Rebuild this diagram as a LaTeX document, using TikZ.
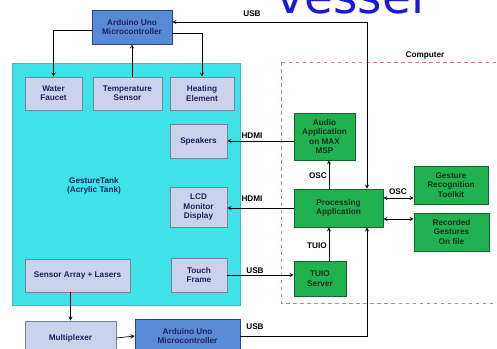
\documentclass[tikz,border=0pt]{standalone}
\usepackage{fontspec}
\setmainfont{Liberation Sans}
\newfontfamily\bigfont{DejaVu Sans}

\definecolor{tankcyan}{RGB}{62,226,232}
\definecolor{tankedge}{RGB}{70,185,195}
\definecolor{boxgrey}{RGB}{203,211,236}
\definecolor{boxedge}{RGB}{120,130,165}
\definecolor{unoblue}{RGB}{88,138,214}
\definecolor{unoedge}{RGB}{40,70,140}
\definecolor{gbox}{RGB}{32,178,78}
\definecolor{gedge}{RGB}{20,100,45}
\definecolor{navy}{RGB}{30,35,90}
\definecolor{gtext}{RGB}{20,45,30}
\definecolor{pcdash}{RGB}{225,120,120}
\definecolor{vesselblue}{RGB}{25,25,225}

\tikzset{
	wh/.style 2 args={minimum width=#1*0.03cm, minimum height=#2*0.03cm},
	box/.style={draw, align=center, inner sep=1pt, line width=0.5pt},
	lightbox/.style={box, fill=boxgrey, draw=boxedge, text=navy},
	unobox/.style={box, fill=unoblue, draw=unoedge, text=navy},
	greenbox/.style={box, fill=gbox, draw=gedge, text=gtext},
	lbl/.style={inner sep=0pt, text=black},
	wire/.style={line width=0.6pt}
}

\begin{document}
\begin{tikzpicture}[>=stealth, x=0.03cm, y=-0.03cm, font=\bfseries\fontsize{7}{8}\selectfont]
	
	% Fixe Größe des Bildes
	\useasboundingbox (0,0) rectangle (497,349);
	\clip (0,0) rectangle (497,349);
	
	% Titel oben (abgeschnitten)
	\node[anchor=base, text=vesselblue, inner sep=0pt, font=\bigfont\fontsize{40}{40}\selectfont] (title) at (350.5,14) {vessel};
	
	% Tank und Computer
	\draw[fill=tankcyan, draw=tankedge] (12,63) rectangle (240,305);
	\draw[dashed, pcdash, line width=0.6pt] (281,62) rectangle (499,303);
	\node[lbl] (pc) at (425,55) {Computer};
	\node[lbl, text=navy, align=center] (tanklabel) at (94,186) {GestureTank\\(Acrylic Tank)};
	
	% Arduino-Boxen
	\node[unobox, wh={80}{34}] (unotop) at (132,27) {Arduino Uno\\Microcontroller};
	\node[unobox, wh={105}{34}] (unobot) at (187.5,336) {Arduino Uno\\Microcontroller};
	
	% Teile im Tank
	\node[lightbox, wh={57}{33}] (faucet) at (53.5,93.5) {Water\\Faucet};
	\node[lightbox, wh={69}{33}] (temp) at (127.5,93.5) {Temperature\\Sensor};
	\node[lightbox, wh={64}{33}] (heat) at (202,93.5) {Heating\\Element};
	\node[lightbox, wh={57}{34}] (speakers) at (198.5,141) {Speakers};
	\node[lightbox, wh={57}{40}] (lcd) at (198.5,207) {LCD\\Monitor\\Display};
	\node[lightbox, wh={105}{33}] (sensor) at (77.5,275.5) {Sensor Array + Lasers};
	\node[lightbox, wh={56}{34}] (touch) at (199,275) {Touch\\Frame};
	\node[lightbox, wh={91}{34}] (mux) at (70.5,338) {Multiplexer};
	
	% Programme auf dem Computer
	\node[greenbox, wh={61}{47}] (audio) at (324.5,136.5) {Audio\\Application\\on MAX\\MSP};
	\node[greenbox, wh={89}{38}] (proc) at (338.5,208) {Processing\\Application};
	\node[greenbox, wh={74}{38}] (grt) at (451,185) {Gesture\\Recognition\\Toolkit};
	\node[greenbox, wh={75}{38}] (rec) at (451.5,232) {Recorded\\Gestures\\On file};
	\node[greenbox, wh={52}{35}] (tuio) at (320,278.5) {TUIO\\Server};
	
	% Hilfspunkte für die senkrechten Leitungen
	\coordinate (tap) at (329,0);
	\coordinate (usbx) at (367,0);
	\coordinate (osca) at (0,198);
	\coordinate (oscb) at (0,219);
	
	% Verbindungen
	\draw[wire, ->] ([yshift=-0.09cm]unotop.west) -| (faucet.north);
	\draw[wire, ->] (temp.north -| unotop) -- (unotop.south);
	\draw[wire, ->] ([yshift=-0.18cm]unotop.east) -| (heat.north);
	\draw[wire, <->] ([yshift=0.15cm]unotop.east) -| (proc.north -| usbx);
	\draw[wire, ->] (audio.west |- speakers.east) -- (speakers.east);
	\draw[wire, ->] (proc.west) -- (proc.west -| lcd.east);
	\draw[wire, ->] (proc.north -| tap) -- (audio.south -| tap);
	\draw[wire, ->] (tuio.north -| tap) -- (proc.south -| tap);
	\draw[wire, <->] (proc.east |- osca) -- (grt.west |- osca);
	\draw[wire, <->] (proc.east |- oscb) -- (rec.west |- oscb);
	\draw[wire, ->] (touch.east) -- (tuio.west |- touch.east);
	\draw[wire, ->] (sensor.south -| mux) -- (mux.north);
	\draw[wire, ->] (mux.east) -- (unobot.west);
	\draw[wire, ->] (unobot.east) -| (proc.south -| usbx);
	
	% Beschriftungen der Leitungen
	\node[lbl] (usbtop) at (252,14) {USB};
	\node[lbl] (hdmia) at (252,136) {HDMI};
	\node[lbl] (hdmib) at (252,199) {HDMI};
	\node[lbl] (osclbla) at (318,176) {OSC};
	\node[lbl] (osclblb) at (398,192) {OSC};
	\node[lbl] (tuiolbl) at (317,246) {TUIO};
	\node[lbl] (usbmid) at (255,271) {USB};
	\node[lbl] (usbbot) at (255,327) {USB};
	
\end{tikzpicture}
\end{document}
